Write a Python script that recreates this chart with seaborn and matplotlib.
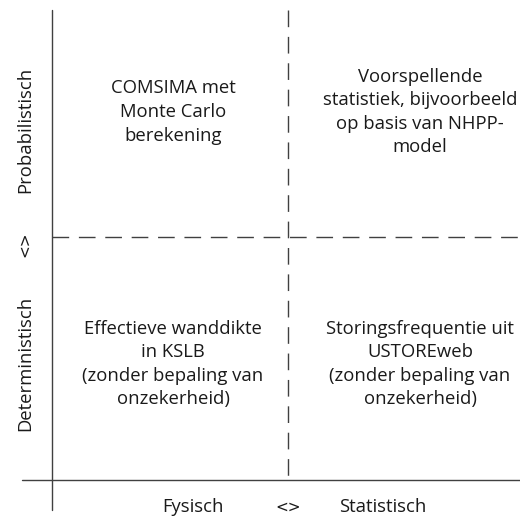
import matplotlib
matplotlib.use("Agg")
import matplotlib.pyplot as plt
import pandas as pd
import seaborn as sns

# ── Chart content ────────────────────────────────────────────────────────────
x_labels = ["Fysisch", "<>", "Statistisch"]
y_labels = ["Deterministisch", "<>", "Probabilistisch"]

quadrant_text = {
    ("Fysisch", "Probabilistisch"): "COMSIMA met\nMonte Carlo\nberekening",
    ("Statistisch", "Probabilistisch"): "Voorspellende\nstatistiek, bijvoorbeeld\nop basis van NHPP-\nmodel",
    ("Fysisch", "Deterministisch"): "Effectieve wanddikte\nin KSLB\n(zonder bepaling van\nonzekerheid)",
    ("Statistisch", "Deterministisch"): "Storingsfrequentie uit\nUSTOREweb\n(zonder bepaling van\nonzekerheid)",
}

# ── Layout (pixel space) ─────────────────────────────────────────────────────
W, H = 520, 521
AX_X, AX_Y = 52, 480          # solid axes
DIV_X, DIV_Y = 288, 237       # dashed dividers
COL_CX = {"Fysisch": 173, "Statistisch": 420}
ROW_CY = {"Probabilistisch": 112, "Deterministisch": 364}

sns.set_theme(style="white")
plt.rcParams["font.family"] = ["Open Sans", "DejaVu Sans"]

fig = plt.figure(figsize=(W / 100, H / 100), dpi=100)
ax = fig.add_axes([0, 0, 1, 1])
ax.set_xlim(0, W)
ax.set_ylim(H, 0)
ax.axis("off")

line_kw = dict(color="#404040", linewidth=1.0)
lines = pd.DataFrame({
    "x": [AX_X, AX_X, 22, W],
    "y": [10, 510, AX_Y, AX_Y],
    "seg": ["v", "v", "h", "h"],
})
for _, seg in lines.groupby("seg"):
    sns.lineplot(data=seg, x="x", y="y", ax=ax, sort=False,
                 estimator=None, **line_kw)

dash_kw = dict(color="#404040", linewidth=1.0, dashes=(12, 7))
ax.plot([DIV_X, DIV_X], [10, 476], **dash_kw)
ax.plot([AX_X, W], [DIV_Y, DIV_Y], **dash_kw)

txt_kw = dict(fontsize=13.3, color="#1a1a1a", ha="center", va="center",
              linespacing=1.4)
for (col, row), label in quadrant_text.items():
    ax.text(COL_CX[col], ROW_CY[row], label, **txt_kw)


def caption_kw(lab):
    # the "<>" separator reads better with DejaVu's wider chevrons
    if lab == "<>":
        return dict(txt_kw, fontsize=11, family=["DejaVu Sans"])
    return txt_kw


# axis captions
x_pos = [193, DIV_X, 383]
for xp, lab in zip(x_pos, x_labels):
    ax.text(xp, 507, lab, **caption_kw(lab))
y_pos = [363, 244, 130]
for yp, lab in zip(y_pos, y_labels):
    ax.text(25, yp, lab, rotation=90, **caption_kw(lab))

fig.savefig("out.png", dpi=100)
